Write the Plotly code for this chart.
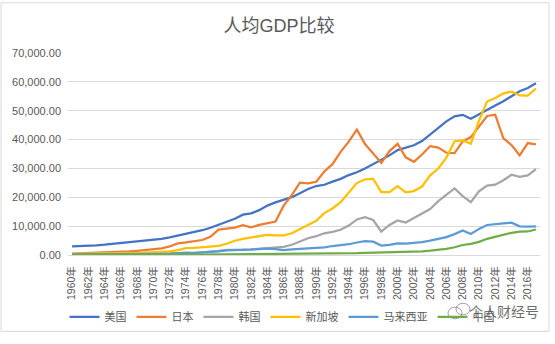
import plotly.graph_objects as go

# GDP per capita (current US$), 1960-2017
years = list(range(1960, 2018))
year_labels = [f"{y}年" for y in years]
tick_labels = [f"{y}年" for y in years if y % 2 == 0]

usa = [3007, 3067, 3244, 3375, 3574, 3828, 4146, 4336, 4696, 5032,
       5234, 5609, 6094, 6726, 7226, 7801, 8592, 9453, 10565, 11674,
       12575, 13976, 14434, 15544, 17121, 18237, 19071, 20039, 21417, 22857,
       23889, 24342, 25419, 26387, 27695, 28691, 29968, 31459, 32854, 34515,
       36335, 37133, 38023, 39496, 41712, 44115, 46299, 48050, 48570, 47195,
       48651, 50066, 51784, 53291, 55124, 56763, 57867, 59532]
japan = [479, 564, 634, 718, 835, 919, 1059, 1229, 1450, 1669,
         2037, 2272, 2967, 3997, 4354, 4659, 5198, 6335, 8821, 9105,
         9463, 10361, 9578, 10425, 10984, 11585, 17112, 20745, 25052, 24813,
         25359, 28925, 31465, 35766, 39269, 43440, 38437, 35022, 31903, 36027,
         38532, 33846, 32289, 34808, 37689, 37218, 35434, 35275, 39339, 40855,
         44508, 48168, 48603, 40454, 38109, 34524, 38794, 38332]
korea = [158, 94, 106, 146, 124, 108, 133, 161, 198, 243,
         279, 301, 324, 407, 563, 615, 830, 1052, 1405, 1784,
         1715, 1883, 1993, 2199, 2413, 2482, 2835, 3555, 4749, 5817,
         6516, 7523, 8001, 8741, 10206, 12333, 13138, 12131, 8085, 10409,
         11948, 11253, 12789, 14209, 15908, 18640, 20888, 23061, 20431, 18291,
         22087, 24080, 24359, 25890, 27811, 27105, 27608, 29743]
singapore = [428, 449, 472, 511, 485, 516, 567, 626, 708, 812,
             926, 1071, 1264, 1685, 2341, 2490, 2770, 2846, 3194, 3901,
             4928, 5596, 6078, 6633, 7006, 6785, 6800, 7539, 9018, 10394,
             11862, 14502, 16136, 18302, 21578, 24915, 26233, 26376, 21829, 21796,
             23853, 21700, 22160, 23730, 27609, 29961, 33769, 39432, 39721, 38578,
             46570, 53170, 54430, 56000, 56600, 55300, 55200, 57700]
malaysia = [235, 228, 237, 256, 268, 291, 304, 307, 316, 350,
            357, 390, 443, 662, 800, 764, 889, 1031, 1249, 1594,
            1775, 1770, 1852, 2048, 2235, 2000, 1728, 1943, 2086, 2219,
            2441, 2653, 3114, 3433, 3729, 4329, 4799, 4638, 3255, 3493,
            4044, 3914, 4166, 4461, 4952, 5587, 6209, 7243, 8475, 7292,
            9041, 10399, 10817, 10970, 11184, 9955, 9818, 9952]
china = [90, 76, 70, 74, 85, 98, 104, 96, 91, 100,
         113, 119, 132, 157, 160, 178, 165, 185, 156, 184,
         195, 197, 203, 225, 251, 294, 281, 251, 283, 310,
         318, 333, 366, 377, 473, 610, 709, 782, 829, 873,
         959, 1053, 1149, 1289, 1509, 1753, 2099, 2694, 3468, 3832,
         4550, 5618, 6317, 7051, 7679, 8067, 8148, 8827]

series_names = ["美国", "日本", "韩国", "新加坡", "马来西亚", "中国"]
series_values = [usa, japan, korea, singapore, malaysia, china]
series_colors = ["#4472C4", "#ED7D31", "#A5A5A5", "#FFC000", "#5B9BD5", "#70AD47"]

y_ticks = list(range(0, 70001, 10000))

FONT = "Liberation Sans, Noto Sans CJK SC, sans-serif"
GREY = "#595959"
GRID = "#d9d9d9"

fig = go.Figure()
for name, vals, color in zip(series_names, series_values, series_colors):
    fig.add_trace(go.Scatter(
        x=year_labels, y=vals, name=name, mode="lines",
        line=dict(color=color, width=2.25),
    ))

W, H = 555, 344
L, R, T, B = 68, 15, 53, 82
pw, ph = W - L - R, H - T - B


def px_x(px):
    return (px - L) / pw


def px_y(py):
    return (H - B - py) / ph


fig.update_layout(
    width=W, height=H,
    margin=dict(l=L, r=R, t=T, b=B),
    paper_bgcolor="white", plot_bgcolor="white",
    font=dict(family=FONT, color=GREY, size=11),
    title=dict(text="人均GDP比较", x=279 / W, xref="container", xanchor="center",
               y=1 - 26 / H, yref="container", yanchor="middle",
               font=dict(size=18, color=GREY, family=FONT)),
    xaxis=dict(
        type="category", categoryorder="array", categoryarray=year_labels,
        tickmode="array", tickvals=tick_labels, ticktext=tick_labels,
        tickangle=-90, tickfont=dict(size=10.5, color=GREY),
        showgrid=False, showline=True, linecolor=GRID, linewidth=1,
        ticks="", ticklabelstandoff=6, range=[-0.5, len(years) - 0.5],
        fixedrange=True,
    ),
    yaxis=dict(
        range=[0, 70000], tickmode="array", tickvals=y_ticks,
        tickformat=",.2f", tickfont=dict(size=11, color=GREY),
        showgrid=True, gridcolor=GRID, gridwidth=1,
        zeroline=False, showline=False, ticks="", ticklabelstandoff=6,
        fixedrange=True,
    ),
    legend=dict(orientation="h", x=px_x(282), xanchor="center",
                y=px_y(326), yanchor="middle",
                font=dict(size=11, color=GREY, family=FONT),
                bgcolor="rgba(0,0,0,0)", itemclick=False),
    showlegend=True,
)

# chart frame
fig.add_shape(type="rect", xref="paper", yref="paper",
              x0=px_x(1), x1=px_x(549), y0=px_y(341), y1=px_y(1),
              line=dict(color=GRID, width=1), layer="below")

# account watermark
fig.add_shape(type="circle", xref="paper", yref="paper",
              x0=px_x(448), x1=px_x(462), y0=px_y(328), y1=px_y(316),
              line=dict(color="rgba(120,120,120,0.7)", width=1))
fig.add_shape(type="circle", xref="paper", yref="paper",
              x0=px_x(456), x1=px_x(470), y0=px_y(324), y1=px_y(312),
              line=dict(color="rgba(120,120,120,0.7)", width=1))
fig.add_annotation(text="个人财经号", xref="paper", yref="paper",
                   x=px_x(504), y=px_y(321), xanchor="center", yanchor="middle",
                   showarrow=False,
                   font=dict(size=14, color="rgba(80,80,80,0.85)", family=FONT))

fig.write_html("out.html")
